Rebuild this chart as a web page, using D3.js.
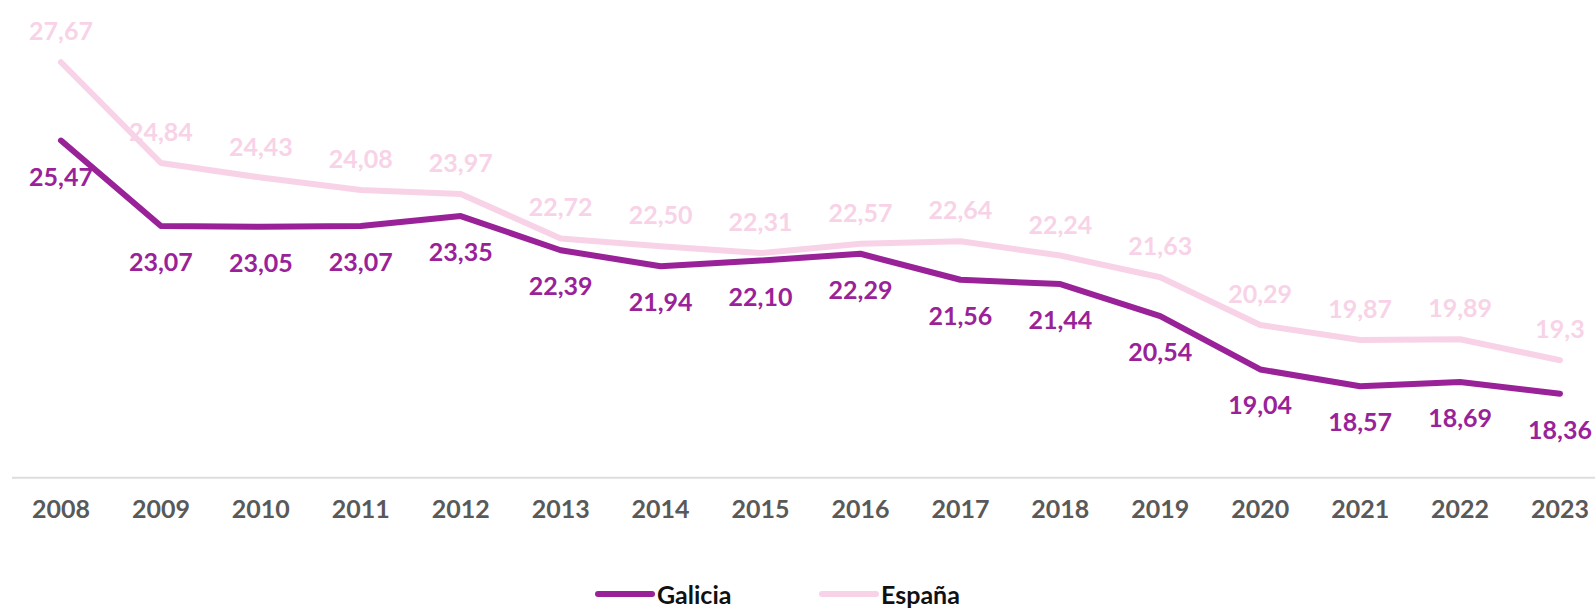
<!DOCTYPE html>
<html>
<head>
<meta charset="utf-8">
<script src="https://cdn.jsdelivr.net/npm/d3@7"></script>
<style>
  body { margin: 0; background: #fff; }
  text { font-family: Lato, "Noto Sans", sans-serif; }
</style>
</head>
<body>
<div id="chart"></div>
<script>
const years = ['2008','2009','2010','2011','2012','2013','2014','2015','2016','2017','2018','2019','2020','2021','2022','2023'];
const galicia = [25.47, 23.07, 23.05, 23.07, 23.35, 22.39, 21.94, 22.10, 22.29, 21.56, 21.44, 20.54, 19.04, 18.57, 18.69, 18.36];
const espana = [27.67, 24.84, 24.43, 24.08, 23.97, 22.72, 22.50, 22.31, 22.57, 22.64, 22.24, 21.63, 20.29, 19.87, 19.89, 19.3];
const galiciaLabels = ['25,47','23,07','23,05','23,07','23,35','22,39','21,94','22,10','22,29','21,56','21,44','20,54','19,04','18,57','18,69','18,36'];
const espanaLabels = ['27,67','24,84','24,43','24,08','23,97','22,72','22,50','22,31','22,57','22,64','22,24','21,63','20,29','19,87','19,89','19,3'];

const purple = '#9a2299';
const pink = '#f8d3e7';
const width = 1595, height = 608;

const svg = d3.select('#chart').append('svg')
    .attr('width', width)
    .attr('height', height);

const x = d3.scalePoint()
    .domain(years)
    .range([61, 1560]);

const y = d3.scaleLinear()
    .domain([16, 28])
    .range([477.7, 50.5]);

// baseline
svg.append('line')
    .attr('x1', 12).attr('x2', 1595)
    .attr('y1', y(16)).attr('y2', y(16))
    .attr('stroke', '#dddddd')
    .attr('stroke-width', 2);

// year labels
svg.append('g')
  .selectAll('text')
  .data(years)
  .join('text')
    .attr('x', d => x(d))
    .attr('y', 508)
    .attr('text-anchor', 'middle')
    .attr('dominant-baseline', 'central')
    .attr('font-size', 25)
    .attr('font-weight', 700)
    .attr('fill', '#595959')
    .text(d => d);

const line = d3.line()
    .x((d, i) => x(years[i]))
    .y(d => y(d));

const series = [
  {name: 'España', values: espana, labels: espanaLabels, color: pink, dy: -32},
  {name: 'Galicia', values: galicia, labels: galiciaLabels, color: purple, dy: 35}
];

series.forEach(s => {
  svg.append('path')
      .datum(s.values)
      .attr('d', line)
      .attr('fill', 'none')
      .attr('stroke', s.color)
      .attr('stroke-width', 6)
      .attr('stroke-linejoin', 'round')
      .attr('stroke-linecap', 'round');
});

series.forEach(s => {
  svg.append('g')
    .selectAll('text')
    .data(s.values)
    .join('text')
      .attr('x', (d, i) => x(years[i]))
      .attr('y', d => y(d) + s.dy)
      .attr('text-anchor', 'middle')
      .attr('dominant-baseline', 'central')
      .attr('font-size', 25)
      .attr('font-weight', 700)
      .attr('fill', s.color)
      .text((d, i) => s.labels[i]);
});

// legend
const legend = [
  {name: 'Galicia', color: purple, x: 598},
  {name: 'España', color: pink, x: 822}
];
const lg = svg.append('g');
legend.forEach(l => {
  lg.append('line')
      .attr('x1', l.x).attr('x2', l.x + 54)
      .attr('y1', 594).attr('y2', 594)
      .attr('stroke', l.color)
      .attr('stroke-width', 6)
      .attr('stroke-linecap', 'round');
  lg.append('text')
      .attr('x', l.x + 59)
      .attr('y', 594)
      .attr('dominant-baseline', 'central')
      .attr('font-size', 25)
      .attr('font-weight', 700)
      .attr('fill', '#111')
      .text(l.name);
});
</script>
</body>
</html>
